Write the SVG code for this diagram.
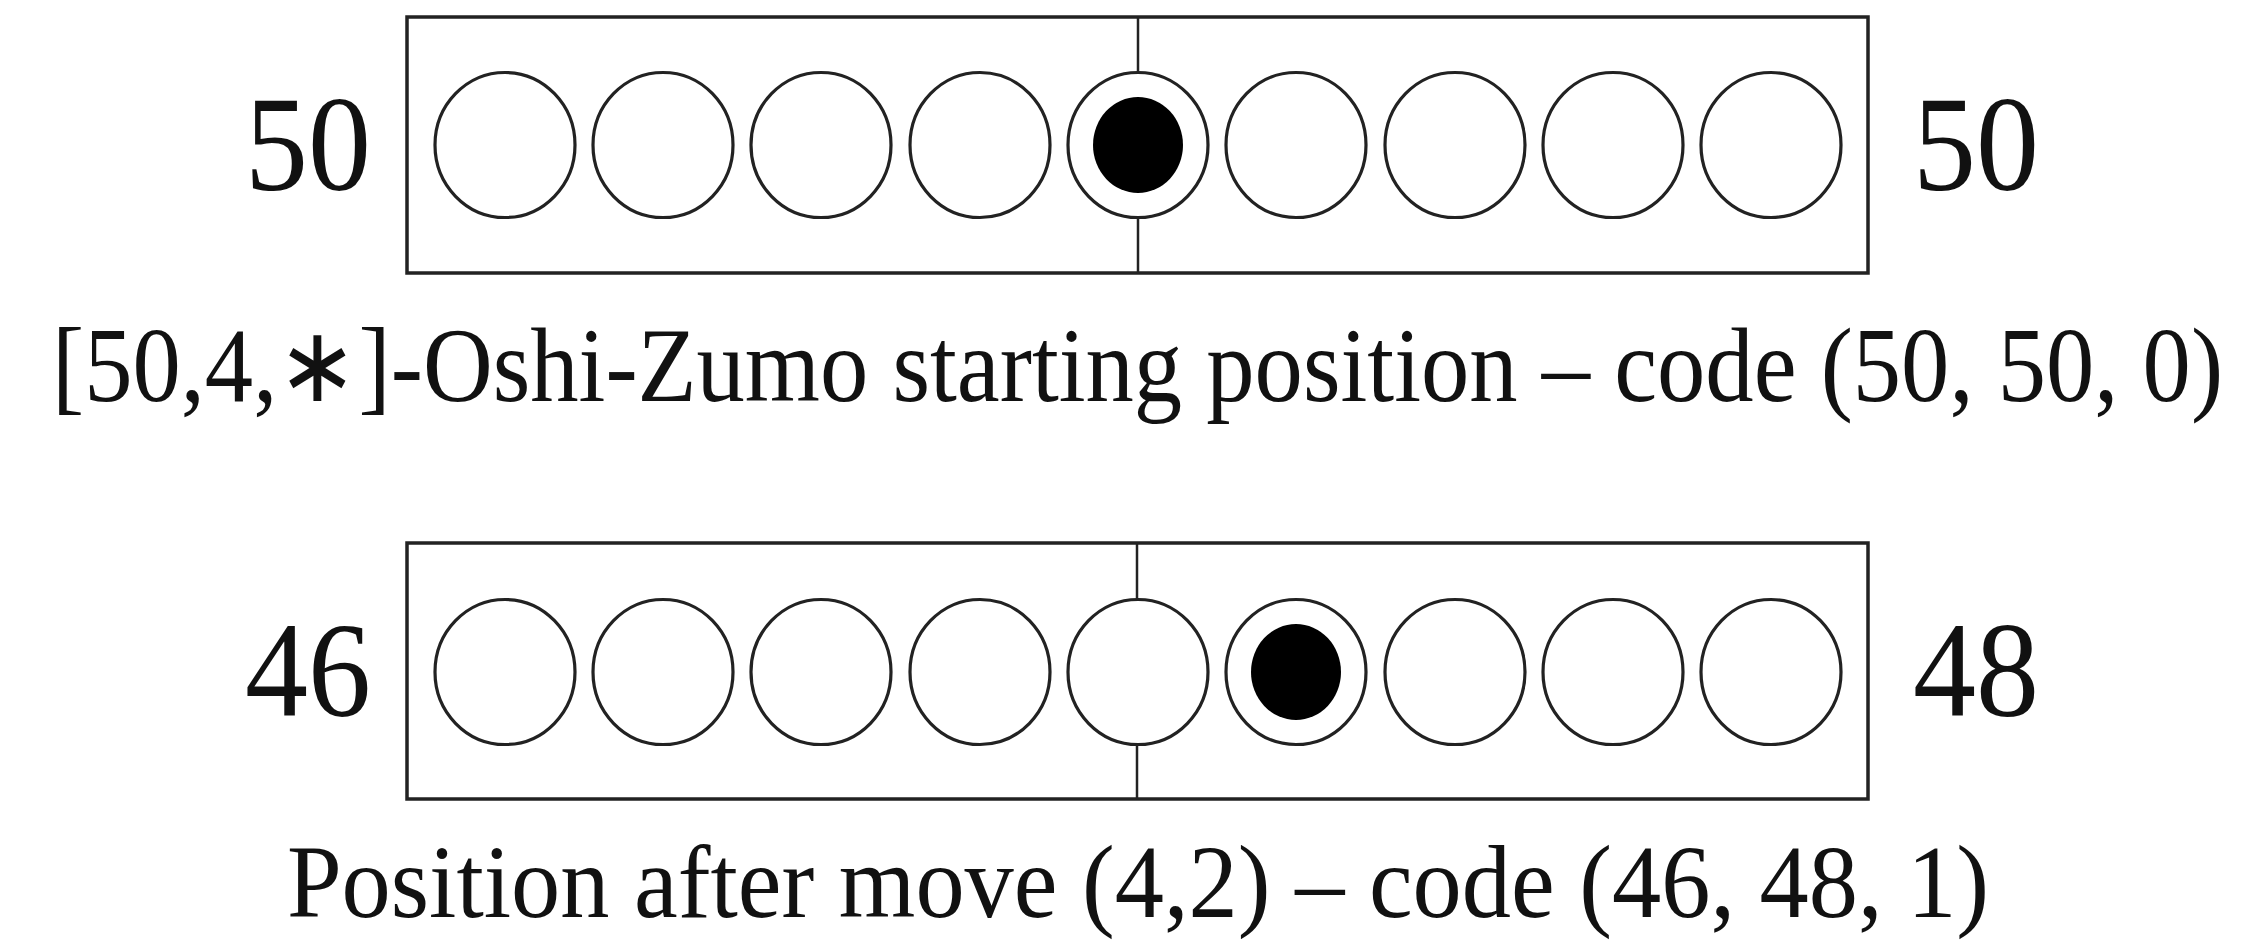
<svg xmlns="http://www.w3.org/2000/svg" width="2249" height="941" viewBox="0 0 2249 941">
<style>
.box{fill:none;stroke:#222;stroke-width:3.5}
.mid{stroke:#222;stroke-width:2.5}
.c{fill:#fff;stroke:#222;stroke-width:3.2}
.d{fill:#000}
.lbl{font-family:"Liberation Serif","Times New Roman",serif;font-size:136px;fill:#111}
.cap{font-family:"Liberation Serif","Times New Roman",serif;fill:#111;text-anchor:middle}
</style>
<rect width="2249" height="941" fill="#fff"/>
<g id="board1">
<rect class="box" x="407" y="17" width="1461" height="256"/>
<line class="mid" x1="1138" y1="17" x2="1138" y2="273"/>
<ellipse class="c" cx="505" cy="145" rx="70" ry="72.5"/>
<ellipse class="c" cx="663" cy="145" rx="70" ry="72.5"/>
<ellipse class="c" cx="821" cy="145" rx="70" ry="72.5"/>
<ellipse class="c" cx="980" cy="145" rx="70" ry="72.5"/>
<ellipse class="c" cx="1138" cy="145" rx="70" ry="72.5"/>
<ellipse class="d" cx="1138" cy="145" rx="45" ry="48"/>
<ellipse class="c" cx="1296" cy="145" rx="70" ry="72.5"/>
<ellipse class="c" cx="1455" cy="145" rx="70" ry="72.5"/>
<ellipse class="c" cx="1613" cy="145" rx="70" ry="72.5"/>
<ellipse class="c" cx="1771" cy="145" rx="70" ry="72.5"/>
<text class="lbl" x="371" y="190" text-anchor="end" textLength="126" lengthAdjust="spacingAndGlyphs">50</text>
<text class="lbl" x="1913" y="190" textLength="126" lengthAdjust="spacingAndGlyphs">50</text>
</g>
<g id="caption1">
<text class="cap" transform="translate(1137.5 401) scale(1 1.09)" x="0" y="0" font-size="96.6">[50,4,∗]-Oshi-Zumo starting position – code (50, 50, 0)</text>
</g>
<g id="board2">
<rect class="box" x="407" y="543" width="1461" height="256"/>
<line class="mid" x1="1137" y1="543" x2="1137" y2="799"/>
<ellipse class="c" cx="505" cy="672" rx="70" ry="72.5"/>
<ellipse class="c" cx="663" cy="672" rx="70" ry="72.5"/>
<ellipse class="c" cx="821" cy="672" rx="70" ry="72.5"/>
<ellipse class="c" cx="980" cy="672" rx="70" ry="72.5"/>
<ellipse class="c" cx="1138" cy="672" rx="70" ry="72.5"/>
<ellipse class="c" cx="1296" cy="672" rx="70" ry="72.5"/>
<ellipse class="d" cx="1296" cy="672" rx="45" ry="48"/>
<ellipse class="c" cx="1455" cy="672" rx="70" ry="72.5"/>
<ellipse class="c" cx="1613" cy="672" rx="70" ry="72.5"/>
<ellipse class="c" cx="1771" cy="672" rx="70" ry="72.5"/>
<text class="lbl" x="371" y="716" text-anchor="end" textLength="126" lengthAdjust="spacingAndGlyphs">46</text>
<text class="lbl" x="1913" y="716" textLength="126" lengthAdjust="spacingAndGlyphs">48</text>
</g>
<g id="caption2">
<text class="cap" transform="translate(1138 917) scale(1 1.05)" x="0" y="0" font-size="98.4">Position after move (4,2) – code (46, 48, 1)</text>
</g>
</svg>
